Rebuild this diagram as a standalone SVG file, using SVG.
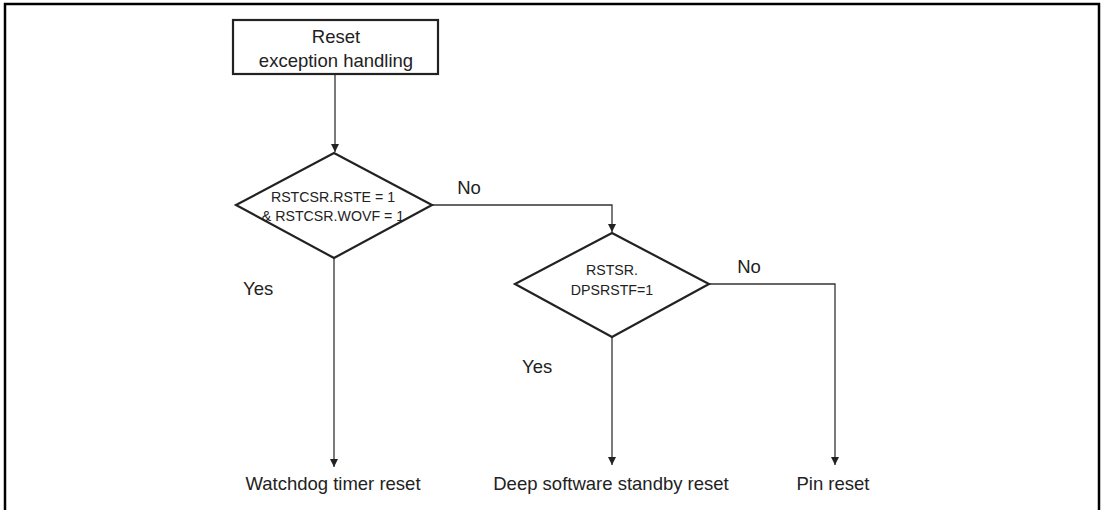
<svg xmlns="http://www.w3.org/2000/svg" width="1103" height="510" viewBox="0 0 1103 510">
<defs>
<marker id="arr" markerWidth="8" markerHeight="12" refX="8" refY="4" orient="auto" markerUnits="userSpaceOnUse">
<path d="M0,0 L8,4 L0,8 z" fill="#222"/>
</marker>
<style>
.frame{fill:none;stroke:#000;stroke-width:2.5}
.shape{fill:#fff;stroke:#222;stroke-width:2.2}
.conn{fill:none;stroke:#333;stroke-width:1.3}
.lbl{font-family:"Liberation Sans",Arial,sans-serif;font-size:18.5px;fill:#222}
.dt{font-family:"Liberation Sans",Arial,sans-serif;font-size:14.2px;fill:#222;text-anchor:middle}
.c{text-anchor:middle}
</style>
</defs>
<rect class="frame" x="5" y="4" width="1094" height="530"/>
<g id="connectors">
<path class="conn" d="M335,74 V152" marker-end="url(#arr)"/>
<path class="conn" d="M432,205 H612 V232" marker-end="url(#arr)"/>
<path class="conn" d="M334,258 V467" marker-end="url(#arr)"/>
<path class="conn" d="M612,337 V465" marker-end="url(#arr)"/>
<path class="conn" d="M709,284 H835 V465" marker-end="url(#arr)"/>
<text class="lbl c" x="469" y="194">No</text>
<text class="lbl c" x="749" y="273">No</text>
<text class="lbl" x="243" y="295">Yes</text>
<text class="lbl" x="522" y="373">Yes</text>
</g>
<g id="start">
<rect class="shape" x="233" y="20" width="205" height="54"/>
<text class="lbl c" x="336" y="43">Reset</text>
<text class="lbl c" x="336" y="67">exception handling</text>
</g>
<g id="decision1">
<polygon class="shape" points="334,153 432,205 334,258 236,205"/>
<text class="dt" x="333" y="202">RSTCSR.RSTE = 1</text>
<text class="dt" x="333" y="221">&amp; RSTCSR.WOVF = 1</text>
</g>
<g id="decision2">
<polygon class="shape" points="612,233 709,284 612,337 515,284"/>
<text class="dt" x="612" y="275">RSTSR.</text>
<text class="dt" x="612" y="295">DPSRSTF=1</text>
</g>
<g id="wdt">
<text class="lbl c" x="333" y="490">Watchdog timer reset</text>
</g>
<g id="dsr">
<text class="lbl c" x="611" y="490">Deep software standby reset</text>
</g>
<g id="pin">
<text class="lbl c" x="833" y="490">Pin reset</text>
</g>
</svg>
